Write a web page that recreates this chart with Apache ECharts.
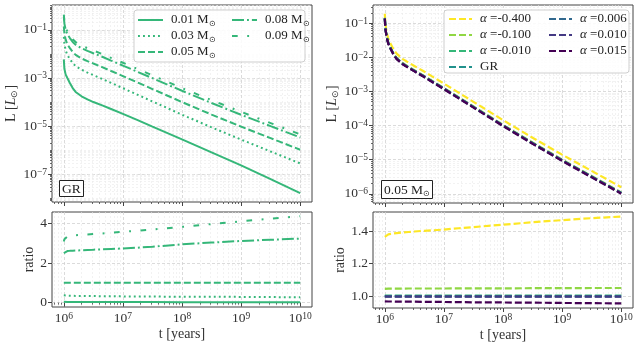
<!DOCTYPE html>
<html>
<head>
<meta charset="utf-8">
<script src="https://cdn.jsdelivr.net/npm/echarts@6/dist/echarts.min.js"></script>
<style>
  html, body { margin: 0; padding: 0; background: #fff; }
  #main { width: 638px; height: 346px; }
</style>
</head>
<body>
<div id="main"></div>
<script>
// time grid (years)
const tYears = [1e6, 1.023e6, 1.072e6, 1.148e6, 1.259e6, 1.413e6, 1.585e6, 1.995e6, 2.512e6, 3.162e6,
  4.467e6, 6.31e6, 1e7, 1.778e7, 3.162e7, 1e8, 3.162e8, 1e9, 3.162e9, 1e10];

// left: luminosity for each mass (GR)
const lum001 = [5.89e-3, 2.40e-3, 1.41e-3, 1.00e-3, 6.31e-4, 3.80e-4, 2.63e-4, 1.74e-4, 1.29e-4, 1.00e-4,
  7.24e-5, 5.13e-5, 3.24e-5, 1.78e-5, 9.55e-6, 2.82e-6, 8.13e-7, 2.34e-7, 6.31e-8, 1.66e-8];
const lum003 = [0.0511, 0.0258, 0.0143, 8.91e-3, 6.23e-3, 4.14e-3, 3.10e-3, 2.20e-3, 1.68e-3, 1.31e-3,
  9.17e-4, 6.24e-4, 3.78e-4, 2.00e-4, 1.06e-4, 3.00e-5, 8.91e-6, 2.77e-6, 8.85e-7, 2.84e-7];
const lum005 = [0.138, 0.0708, 0.0398, 0.0251, 0.0178, 0.0120, 9.12e-3, 6.46e-3, 5.01e-3, 3.98e-3,
  2.82e-3, 1.95e-3, 1.20e-3, 6.46e-4, 3.47e-4, 1.00e-4, 3.02e-5, 9.55e-6, 3.16e-6, 1.05e-6];
const lum008 = [0.345, 0.181, 0.103, 0.0653, 0.0465, 0.0314, 0.0240, 0.0171, 0.0133, 0.0106,
  7.59e-3, 5.28e-3, 3.28e-3, 1.79e-3, 9.79e-4, 2.94e-4, 9.15e-5, 2.97e-5, 1.00e-5, 3.39e-6];
const lum009 = [0.425, 0.227, 0.131, 0.0836, 0.0598, 0.0406, 0.0310, 0.0221, 0.0172, 0.0138,
  9.84e-3, 6.86e-3, 4.28e-3, 2.35e-3, 1.28e-3, 3.82e-4, 1.20e-4, 3.92e-5, 1.34e-5, 4.58e-6];

// left: ratio to 0.05 Msun
const ratio001 = [0.045, 0.040, 0.038, 0.037, 0.036, 0.035, 0.034, 0.033, 0.032, 0.031,
  0.030, 0.030, 0.029, 0.028, 0.027, 0.025, 0.023, 0.021, 0.019, 0.017];
const ratio003 = [0.37, 0.365, 0.36, 0.355, 0.35, 0.345, 0.34, 0.34, 0.335, 0.33,
  0.325, 0.32, 0.315, 0.31, 0.305, 0.30, 0.295, 0.29, 0.28, 0.27];
const ratio005 = [1, 1, 1, 1, 1, 1, 1, 1, 1, 1, 1, 1, 1, 1, 1, 1, 1, 1, 1, 1];
const ratio008 = [2.50, 2.55, 2.58, 2.60, 2.61, 2.62, 2.63, 2.64, 2.66, 2.67,
  2.69, 2.71, 2.73, 2.77, 2.82, 2.94, 3.03, 3.11, 3.17, 3.23];
const ratio009 = [3.08, 3.20, 3.28, 3.33, 3.36, 3.38, 3.40, 3.42, 3.44, 3.46,
  3.49, 3.52, 3.57, 3.63, 3.69, 3.82, 3.96, 4.10, 4.23, 4.36];

// right: 0.05 Msun for each alpha
const lumA040 = [0.188, 0.0970, 0.0547, 0.0346, 0.0246, 0.0166, 0.0127, 8.99e-3, 6.99e-3, 5.56e-3,
  3.95e-3, 2.74e-3, 1.69e-3, 9.16e-4, 4.94e-4, 1.44e-4, 4.39e-5, 1.40e-5, 4.68e-6, 1.56e-6];
const lumA010 = [0.144, 0.0740, 0.0416, 0.0263, 0.0186, 0.01255, 9.54e-3, 6.76e-3, 5.25e-3, 4.17e-3,
  2.95e-3, 2.04e-3, 1.256e-3, 6.77e-4, 3.64e-4, 1.048e-4, 3.17e-5, 1.002e-5, 3.32e-6, 1.10e-6];
const lumA001 = [0.1386, 0.0711, 0.0400, 0.0252, 0.01787, 0.01205, 9.16e-3, 6.49e-3, 5.03e-3, 4.00e-3,
  2.83e-3, 1.958e-3, 1.205e-3, 6.49e-4, 3.48e-4, 1.004e-4, 3.03e-5, 9.59e-6, 3.17e-6, 1.054e-6];
const lumGR = [0.138, 0.0708, 0.0398, 0.0251, 0.0178, 0.0120, 9.12e-3, 6.46e-3, 5.01e-3, 3.98e-3,
  2.82e-3, 1.95e-3, 1.20e-3, 6.46e-4, 3.47e-4, 1.00e-4, 3.02e-5, 9.55e-6, 3.16e-6, 1.05e-6];
const lumB006 = [0.1379, 0.0707, 0.03976, 0.02507, 0.01778, 0.01199, 9.11e-3, 6.45e-3, 5.00e-3, 3.976e-3,
  2.817e-3, 1.948e-3, 1.199e-3, 6.45e-4, 3.467e-4, 9.99e-5, 3.017e-5, 9.54e-6, 3.157e-6, 1.049e-6];
const lumB010 = [0.1376, 0.0706, 0.03968, 0.02502, 0.01775, 0.01196, 9.09e-3, 6.44e-3, 4.995e-3, 3.968e-3,
  2.812e-3, 1.944e-3, 1.196e-3, 6.44e-4, 3.46e-4, 9.97e-5, 3.01e-5, 9.52e-6, 3.15e-6, 1.047e-6];
const lumB015 = [0.1336, 0.0685, 0.0385, 0.02427, 0.01721, 0.0116, 8.81e-3, 6.24e-3, 4.84e-3, 3.845e-3,
  2.72e-3, 1.88e-3, 1.157e-3, 6.22e-4, 3.34e-4, 9.61e-5, 2.90e-5, 9.15e-6, 3.02e-6, 1.003e-6];

// right: ratio to GR
const ratA040 = [1.365, 1.37, 1.375, 1.38, 1.383, 1.386, 1.388, 1.392, 1.395, 1.398,
  1.402, 1.405, 1.41, 1.418, 1.425, 1.44, 1.455, 1.468, 1.48, 1.49];
const ratA010 = [1.045, 1.045, 1.045, 1.046, 1.046, 1.046, 1.046, 1.046, 1.047, 1.047,
  1.047, 1.047, 1.047, 1.048, 1.048, 1.048, 1.049, 1.049, 1.05, 1.05];
const ratA001 = [1.004, 1.004, 1.004, 1.004, 1.004, 1.004, 1.004, 1.004, 1.004, 1.004,
  1.004, 1.004, 1.004, 1.004, 1.004, 1.004, 1.004, 1.004, 1.004, 1.004];
const ratGR = [1, 1, 1, 1, 1, 1, 1, 1, 1, 1, 1, 1, 1, 1, 1, 1, 1, 1, 1, 1];
const ratB006 = [0.999, 0.999, 0.999, 0.999, 0.999, 0.999, 0.999, 0.999, 0.999, 0.999,
  0.999, 0.999, 0.999, 0.999, 0.999, 0.999, 0.999, 0.999, 0.999, 0.999];
const ratB010 = [0.997, 0.997, 0.997, 0.997, 0.997, 0.997, 0.997, 0.997, 0.997, 0.997,
  0.997, 0.997, 0.997, 0.997, 0.997, 0.997, 0.997, 0.997, 0.997, 0.997];
const ratB015 = [0.968, 0.968, 0.967, 0.967, 0.967, 0.967, 0.966, 0.966, 0.966, 0.966,
  0.965, 0.965, 0.964, 0.963, 0.962, 0.961, 0.960, 0.958, 0.957, 0.955];

// tick labels
const xTickExp = [6, 7, 8, 9, 10];
const yTickExpLeft = [-1, -3, -5, -7];
const yTickExpRight = [-1, -2, -3, -4, -5, -6];
const ratioTicksLeft = [0, 2, 4];
const ratioTicksRight = [1.0, 1.2, 1.4];

const FONT = 'Liberation Serif';
const TXT = '#333';
const FRAME = '#444';

const xy = (arr) => tYears.map((t, i) => [t, arr[i]]);
const pow10 = (e) => Math.pow(10, e);

function minorLog(e0, e1, withDecades) {
  const out = [];
  for (let e = e0; e <= e1; e++) {
    for (let k = withDecades ? 1 : 2; k <= 9; k++) out.push(k * pow10(e));
  }
  return out;
}

const supRich = {
  b: { fontFamily: FONT, fontSize: 13.5, color: TXT, lineHeight: 14, padding: [4, 0, 0, 0], verticalAlign: 'bottom' },
  s: { fontFamily: FONT, fontSize: 9.5, color: TXT, lineHeight: 10, verticalAlign: 'top' }
};
const powLabel = (v) => {
  const e = Math.round(Math.log10(v));
  return '{b|10}{s|' + String(e).replace('-', '\u2212') + '}';
};
const nameRich = {
  i: { fontFamily: FONT, fontSize: 14, fontStyle: 'italic', color: TXT, lineHeight: 16 },
  n: { fontFamily: FONT, fontSize: 14, color: TXT, lineHeight: 16 },
  s: { fontFamily: FONT, fontSize: 8.5, color: TXT, lineHeight: 6, verticalAlign: 'bottom' }
};

const majorSplit = { show: true, lineStyle: { color: '#d2d2d2', type: [3, 2], width: 0.8 } };
const minorSplit = { show: true, lineStyle: { color: '#e9e9e9', type: [2, 2], width: 0.6 } };

const grids = [
  { left: 52, top: 5, width: 260, height: 197 },
  { left: 52, top: 212, width: 260, height: 95 },
  { left: 373, top: 5, width: 260, height: 198 },
  { left: 373, top: 212, width: 260, height: 96 }
].map(g => Object.assign(g, { show: true, borderColor: FRAME, borderWidth: 1, containLabel: false }));

const xMin = pow10(5.8), xMax = pow10(10.2);
const xMajor = xTickExp.map(pow10);
const xMinor = minorLog(5, 10, false);

function xAxesFor(g, labels) {
  const base = { type: 'log', logBase: 10, gridIndex: g, min: xMin, max: xMax, position: 'bottom',
    axisLine: { show: false }, minorTick: { show: false }, minorSplitLine: { show: false } };
  const major = Object.assign({}, base, {
    axisTick: { show: true, length: 4, customValues: xMajor, lineStyle: { color: FRAME, width: 1 } },
    axisLabel: { show: labels, customValues: xMajor, margin: 4, formatter: powLabel, rich: supRich },
    splitLine: majorSplit
  });
  if (labels) {
    major.name = 't [years]';
    major.nameLocation = 'middle';
    major.nameGap = 20;
    major.nameTextStyle = { fontFamily: FONT, fontSize: 14, color: TXT };
  }
  const minor = Object.assign({}, base, {
    axisTick: { show: true, length: 2, customValues: xMinor, lineStyle: { color: FRAME, width: 0.8 } },
    axisLabel: { show: false },
    splitLine: minorSplit
  });
  return [major, minor];
}

function yLogAxesFor(g, min, max, exps, minorVals, nameGap) {
  const base = { type: 'log', logBase: 10, gridIndex: g, min: min, max: max, position: 'left',
    axisLine: { show: false }, minorTick: { show: false }, minorSplitLine: { show: false } };
  const vals = exps.map(pow10);
  const major = Object.assign({}, base, {
    axisTick: { show: true, length: 4, customValues: vals, lineStyle: { color: FRAME, width: 1 } },
    axisLabel: { show: true, customValues: vals, margin: 5, formatter: powLabel, rich: supRich },
    splitLine: majorSplit,
    name: '{n|L [}{i|L}{s|\u2299}{n|]}', nameLocation: 'middle', nameGap: nameGap,
    nameTextStyle: { rich: nameRich }
  });
  const minor = Object.assign({}, base, {
    axisTick: { show: true, length: 2, customValues: minorVals, lineStyle: { color: FRAME, width: 0.8 } },
    axisLabel: { show: false },
    splitLine: minorSplit
  });
  return [major, minor];
}

function yRatioAxesFor(g, min, max, ticks, fmt, nameGap) {
  const major = { type: 'value', gridIndex: g, min: min, max: max, position: 'left',
    axisLine: { show: false },
    axisTick: { show: true, length: 4, customValues: ticks, lineStyle: { color: FRAME, width: 1 } },
    axisLabel: { show: true, customValues: ticks, margin: 5, formatter: fmt,
      fontFamily: FONT, fontSize: 13.5, color: TXT },
    splitLine: majorSplit,
    name: 'ratio', nameLocation: 'middle', nameGap: nameGap,
    nameTextStyle: { fontFamily: FONT, fontSize: 14, color: TXT } };
  const minor = { type: 'value', gridIndex: g, min: min, max: max, position: 'left', show: false };
  return [major, minor];
}

const xAxis = [].concat(xAxesFor(0, false), xAxesFor(1, true), xAxesFor(2, false), xAxesFor(3, true));
const yAxis = [].concat(
  yLogAxesFor(0, pow10(-8.15), pow10(0.03), yTickExpLeft, minorLog(-9, 0, true), 31),
  yRatioAxesFor(1, -0.22, 4.57, ratioTicksLeft, v => String(v), 14),
  yLogAxesFor(2, pow10(-6.27), pow10(-0.47), yTickExpRight, minorLog(-7, -1, false), 31),
  yRatioAxesFor(3, 0.927, 1.518, ratioTicksRight, v => v.toFixed(1), 22)
);

const GREEN = '#35b779';
const DASHED = [7, 3];
const leftStyles = [
  { name: '0.01 M\u2299', lum: lum001, ratio: ratio001, type: 'solid' },
  { name: '0.03 M\u2299', lum: lum003, ratio: ratio003, type: [1.9, 3.1] },
  { name: '0.05 M\u2299', lum: lum005, ratio: ratio005, type: DASHED },
  { name: '0.08 M\u2299', lum: lum008, ratio: ratio008, type: [12, 3, 1.9, 3] },
  { name: '0.09 M\u2299', lum: lum009, ratio: ratio009, type: [5.7, 9.5, 1.9, 9.5] }
];
const rightStyles = [
  { name: '\u03b1 =-0.400', lum: lumA040, ratio: ratA040, color: '#fde725' },
  { name: '\u03b1 =-0.100', lum: lumA010, ratio: ratA010, color: '#90d743' },
  { name: '\u03b1 =-0.010', lum: lumA001, ratio: ratA001, color: '#35b779' },
  { name: 'GR', lum: lumGR, ratio: ratGR, color: '#21918c' },
  { name: '\u03b1 =0.006', lum: lumB006, ratio: ratB006, color: '#31688e' },
  { name: '\u03b1 =0.010', lum: lumB010, ratio: ratB010, color: '#443983' },
  { name: '\u03b1 =0.015', lum: lumB015, ratio: ratB015, color: '#440154' }
];

const series = [];
function addLine(name, data, g, color, type, width) {
  series.push({
    name: name, type: 'line', data: xy(data), xAxisIndex: 2 * g, yAxisIndex: 2 * g,
    symbol: 'none', showSymbol: false, smooth: false, clip: true, z: 2,
    lineStyle: { color: color, width: width, type: type, cap: 'butt' },
    itemStyle: { color: color }
  });
}
leftStyles.forEach(s => { addLine(s.name, s.lum, 0, GREEN, s.type, 2); });
leftStyles.forEach(s => { addLine(s.name, s.ratio, 1, GREEN, s.type, 2); });
rightStyles.forEach(s => { addLine(s.name, s.lum, 2, s.color, DASHED, 2.2); });
rightStyles.forEach(s => { addLine(s.name, s.ratio, 3, s.color, DASHED, 2.2); });

const legendText = {
  fontFamily: FONT, fontSize: 13, color: '#222', lineHeight: 16, padding: [0, 0, 0, 3],
  rich: {
    s: { fontFamily: FONT, fontSize: 8, color: '#222', lineHeight: 6, verticalAlign: 'bottom' },
    i: { fontFamily: FONT, fontSize: 13, fontStyle: 'italic', color: '#222', lineHeight: 16 }
  }
};
const legendFmt = (name) => name.replace('\u2299', '{s|\u2299}').replace('\u03b1', '{i|\u03b1}');
function legendCol(names, left, top, itemWidth) {
  return {
    data: names, left: left, top: top, orient: 'vertical', padding: 0, itemGap: 0,
    itemWidth: itemWidth, itemHeight: 12, selectedMode: false, z: 5,
    itemStyle: { color: 'rgba(0,0,0,0)', borderColor: 'rgba(0,0,0,0)', borderWidth: 0, opacity: 0 },
    lineStyle: { width: 2 },
    formatter: legendFmt, textStyle: legendText
  };
}

const option = {
  animation: false,
  backgroundColor: '#fff',
  grid: grids,
  xAxis: xAxis,
  yAxis: yAxis,
  series: series,
  legend: [
    legendCol(leftStyles.slice(0, 3).map(s => s.name), 137, 12, 25),
    legendCol(leftStyles.slice(3).map(s => s.name), 231, 12, 25),
    legendCol(rightStyles.slice(0, 4).map(s => s.name), 448, 11, 23),
    legendCol(rightStyles.slice(4).map(s => s.name), 548, 11, 23)
  ],
  title: [
    { text: 'GR', left: 59, top: 180, padding: [2, 3, 1, 3], borderColor: '#222', borderWidth: 1,
      backgroundColor: '#fff', textStyle: { fontFamily: FONT, fontSize: 13.5, fontWeight: 'normal', color: '#222' } },
    { text: '0.05 M{s|\u2299}', left: 381, top: 180, padding: [2, 3, 1, 3], borderColor: '#222', borderWidth: 1,
      backgroundColor: '#fff', textStyle: { fontFamily: FONT, fontSize: 13.5, fontWeight: 'normal', color: '#222',
        lineHeight: 16, rich: { s: { fontFamily: FONT, fontSize: 8, color: '#222', lineHeight: 6, verticalAlign: 'bottom' } } } }
  ],
  graphic: [
    { type: 'rect', z: 3, shape: { x: 134, y: 10, width: 171, height: 52, r: 3 },
      style: { fill: 'rgba(255,255,255,0.85)', stroke: '#cfcfcf', lineWidth: 1 } },
    { type: 'rect', z: 3, shape: { x: 444, y: 10, width: 185, height: 63, r: 3 },
      style: { fill: 'rgba(255,255,255,0.85)', stroke: '#cfcfcf', lineWidth: 1 } }
  ]
};

const chart = echarts.init(document.getElementById('main'), null, { renderer: 'canvas' });
chart.setOption(option);
</script>
</body>
</html>
